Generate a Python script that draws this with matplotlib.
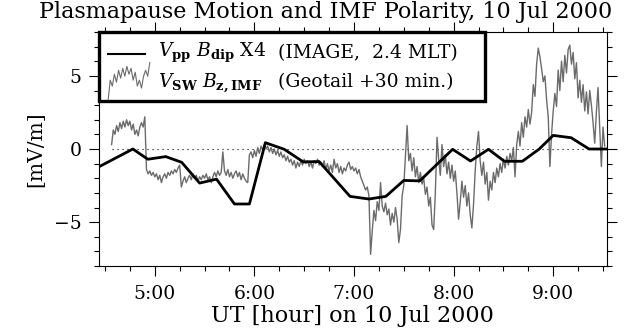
import numpy as np
import matplotlib
matplotlib.use('Agg')
import matplotlib.pyplot as plt
from matplotlib.ticker import MultipleLocator, FuncFormatter
from matplotlib.patches import Rectangle

plt.rcParams['font.family'] = ['DejaVu Serif']
plt.rcParams['mathtext.fontset'] = 'dejavuserif'

# V_pp * B_dip x4 from IMAGE (hours UT, mV/m)
pp_time = [4.43, 4.78, 4.93, 5.11, 5.27, 5.45, 5.62, 5.80, 5.95, 6.11,
           6.30, 6.49, 6.65, 6.96, 7.15, 7.32, 7.50, 7.66, 7.99, 8.17,
           8.35, 8.51, 8.69, 8.86, 9.00, 9.18, 9.36, 9.53]
pp_value = [-1.25, 0.0, -0.70, -0.52, -0.91, -2.33, -2.06, -3.76, -3.76, 0.43,
            -0.02, -0.88, -0.86, -3.24, -3.42, -3.24, -2.15, -2.18, -0.02, -0.82,
            -0.02, -0.84, -0.84, 0.0, 0.93, 0.77, 0.0, 0.0]

# V_sw * Bz_IMF from Geotail, shifted +30 min, one value per minute from 4:34
sw_first_min = 34
sw_value = [
    0.3, 1.3, 1.0, 1.6, 1.2, 1.8, 1.4, 1.9, 1.5, 2.0,
    1.6, 1.9, 1.3, 1.7, 1.0, 1.3, 0.9, 1.5, 1.8, 1.5,
    2.2, -1.4, -1.7, -1.5, -1.8, -1.6, -1.9, -1.7, -2.1, -1.8,
    -2.3, -1.9, -1.7, -2.0, -1.6, -1.8, -1.5, -1.7, -1.4, -1.6,
    -1.3, -1.1, -2.6, -2.2, -1.9, -2.3, -2.0, -1.8, -2.1, -1.7,
    -2.0, -1.8, -2.2, -1.9, -2.1, -1.8, -2.0, -1.7, -2.1, -1.9,
    -2.3, -1.9, -1.6, -1.9, -1.5, -1.8, -1.6, -0.2, -1.5, -1.8,
    -1.4, -1.9, -1.6, -2.0, -1.7, -1.5, -1.9, -1.6, -2.1, -1.7,
    -2.0, -2.2, -2.3, -0.4, -0.2, -0.6, -0.1, -0.5, 0.1, -0.3,
    0.2, -0.1, 0.3, 0.0, 0.2, -0.2, 0.1, -0.3, 0.0, -0.4,
    -0.1, -0.5, -0.2, -0.6, -0.4, -0.8, -0.5, -0.9, -0.7, -1.1,
    -0.8, -1.3, -0.9, -1.2, -0.8, -1.1, -0.7, -1.0, -0.8, -1.2,
    -0.9, -1.3, -0.8, -1.0, -0.7, -1.1, -0.9, -1.2, -0.8, -1.4,
    -1.0, -1.5, -1.1, -1.6, -0.7, -1.3, -1.0, -1.6, -1.2, -1.7,
    -1.3, -1.5, -1.1, -0.9, -1.4, -1.2, -1.5, -1.3, -1.7, -1.4,
    -1.9, -2.2, -2.5, -2.8, -2.6, -3.2, -7.2, -5.6, -4.2, -4.9,
    -3.6, -4.2, -2.3, -3.9, -4.3, -3.7, -4.5, -4.1, -5.2, -4.4,
    -5.0, -4.0, -4.8, -6.4, -5.5, -3.2, -2.5, -0.5, 1.6, -0.8,
    -0.3, -1.5, -0.6, -1.9, -1.2, -2.3, -1.6, -2.4, -2.0, -3.1,
    -2.6, -3.9, -3.3, -5.2, -5.5, -3.0, 0.8, -0.7, -1.8, 0.3,
    -1.2, -0.4, -1.7, -0.9, -2.0, -1.1, -2.2, -1.5, -3.0, -4.8,
    -3.6, -2.2, -3.3, -2.5, -3.9, -3.0, -4.5, -5.4, -3.8, -1.5,
    0.2, 1.2, -0.8, -1.8, -0.9, -2.4, -1.6, -3.5, -2.2, -2.8,
    -1.6, -2.3, -1.3, -1.9, -1.0, -1.6, -0.7, -1.3, -0.5, -1.1,
    -0.3, -0.8, 0.1, -1.9, 0.3, 1.2, 0.2, 1.8, 0.8, 2.2,
    1.5, 2.7, 1.7, 2.5, 4.4, 3.6, 5.8, 6.9, 6.3, 5.5,
    4.6, 5.0, 3.4, 2.2, -1.2, 1.0, 2.6, 3.8, 2.9, 5.4,
    4.0, 6.0, 4.6, 6.4, 5.2, 6.8, 7.1, 5.8, 6.6, 4.8,
    5.9, 3.5, 4.7, 3.2, 4.4, 2.6, 3.9, 2.4, 4.0, 3.0,
    1.8, 0.4, 2.5, 4.2, 1.5, -1.2, 1.5, 0.2,
]
sw_time = 4 + (sw_first_min + np.arange(len(sw_value))) / 60.0

x_range = (4.435, 9.535)
y_range = (-8, 8)

GRAY = '#6b6b6b'
FS = 13.5
FS_BIG = 16

fig = plt.figure(figsize=(6.24, 3.32), dpi=100)
ax = fig.add_axes([98.5/624, 66/332, 508/624, 234/332])

ax.hlines(0, sw_time[0], x_range[1], colors='black', linestyles=(0, (1, 3.5)), lw=0.8)
ax.plot(sw_time, sw_value, color=GRAY, lw=1.0)
ax.plot(pp_time, pp_value, color='black', lw=2.0)

ax.set_xlim(*x_range)
ax.set_ylim(*y_range)
ax.xaxis.set_major_locator(MultipleLocator(1))
ax.xaxis.set_minor_locator(MultipleLocator(0.25))
ax.xaxis.set_major_formatter(FuncFormatter(lambda h, p: '%d:00' % round(h)))
ax.yaxis.set_major_locator(MultipleLocator(5))
ax.yaxis.set_minor_locator(MultipleLocator(1))
ax.tick_params(which='both', direction='out', top=True, right=True,
               width=0.8, labelsize=FS)
ax.tick_params(which='major', length=7, pad=5)
ax.tick_params(axis='x', which='major', pad=7)
ax.tick_params(which='minor', length=3.5)
for s in ax.spines.values():
    s.set_linewidth(0.8)

ax.set_xlabel('UT [hour] on 10 Jul 2000', fontsize=FS_BIG, labelpad=1)
ax.set_ylabel('[mV/m]', fontsize=FS + 1, labelpad=6)
fig.text(326/624, 1 - 12/332, 'Plasmapause Motion and IMF Polarity, 10 Jul 2000',
         ha='center', va='center', fontsize=FS_BIG)

# legend box drawn by hand to keep the two text columns aligned
ax.add_patch(Rectangle((0.0, 0.704), 0.761, 0.296, transform=ax.transAxes,
                       fill=False, lw=2.4, ec='black', zorder=5, clip_on=False))
ax.plot([0.019, 0.092], [0.907, 0.907], transform=ax.transAxes, color='black', lw=1.5, zorder=6)
leg_v = np.array(sw_value[:21])
leg_y = 0.71 + 0.16 * (leg_v - leg_v.min()) / (leg_v.max() - leg_v.min())
leg_x = np.linspace(0.019, 0.101, len(leg_v))
ax.plot(leg_x, leg_y, transform=ax.transAxes, color=GRAY, lw=0.8, zorder=6)
ax.text(0.117, 0.912, r'$V_{\mathbf{pp}}\ B_{\mathbf{dip}}$ X4', transform=ax.transAxes,
        fontsize=FS, va='center', zorder=6)
ax.text(0.353, 0.912, '(IMAGE,  2.4 MLT)', transform=ax.transAxes,
        fontsize=FS, va='center', zorder=6)
ax.text(0.117, 0.784, r'$V_{\mathbf{SW}}\ B_{\mathbf{z,IMF}}$', transform=ax.transAxes,
        fontsize=FS, va='center', zorder=6)
ax.text(0.353, 0.784, '(Geotail +30 min.)', transform=ax.transAxes,
        fontsize=FS, va='center', zorder=6)

fig.savefig('out.png', dpi=100)
